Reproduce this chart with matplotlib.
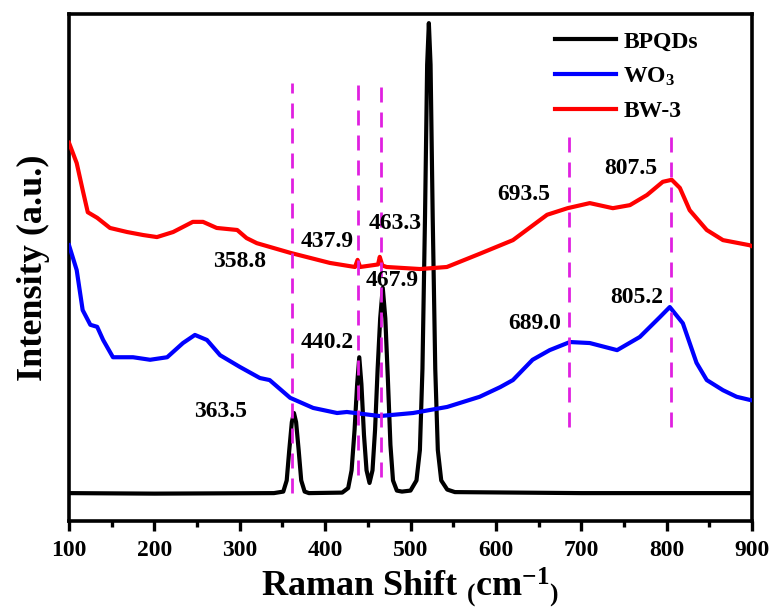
import matplotlib
matplotlib.use("Agg")
import matplotlib.pyplot as plt
import numpy as np

plt.rcParams['font.family'] = 'serif'
plt.rcParams['font.serif'] = ['Liberation Serif', 'DejaVu Serif']
plt.rcParams['font.weight'] = 'bold'
plt.rcParams['mathtext.fontset'] = 'custom'
plt.rcParams['mathtext.rm'] = 'Liberation Serif:bold'
plt.rcParams['mathtext.bf'] = 'Liberation Serif:bold'
plt.rcParams['mathtext.it'] = 'Liberation Serif:bold:italic'

# Spectra (Raman shift in cm-1, intensity in a.u.)
bpqds_x = [100, 200, 340, 351, 355, 358, 361, 363.5, 366, 369, 372, 376, 381,
           420, 427, 431, 434.5, 437.5, 440, 442.5, 445.5, 448.5, 452, 455.5, 458.5, 461.5,
           464.5, 467.5, 470.5, 473.5, 476.5, 479.5, 484, 490, 500, 507, 511, 514, 517,
           519.5, 521.5, 523.5, 526, 529, 532, 536, 543, 552, 700, 900]
bpqds_y = [5.5, 5.4, 5.5, 5.8, 8.0, 14.0, 19.5, 21.3, 19.5, 14.0, 8.0, 5.8, 5.5,
           5.6, 6.5, 10.0, 18.0, 27.0, 32.3, 27.0, 17.0, 10.0, 7.5, 10.0, 18.0, 30.0,
           40.0, 46.0, 40.0, 28.0, 15.0, 8.0, 6.0, 5.8, 6.0, 8.0, 14.0, 30.0, 60.0,
           90.0, 98.2, 90.0, 60.0, 30.0, 14.0, 8.0, 6.2, 5.7, 5.5, 5.5]

wo3_x = [100, 109, 116, 125, 133, 140, 151.5, 175, 195, 215, 233.5, 247.5, 261.6,
         277, 300, 323.6, 335, 359, 386, 414, 425.5, 464, 503, 543, 581, 605, 620,
         643, 663, 686.7, 710, 742, 768.6, 792, 803.7, 819, 835, 847, 866, 882, 897, 900]
wo3_y = [54.4, 49.5, 41.6, 38.7, 38.3, 35.7, 32.3, 32.3, 31.8, 32.3, 35.1, 36.7, 35.7,
         32.7, 30.4, 28.2, 27.8, 24.3, 22.3, 21.3, 21.5, 20.7, 21.3, 22.5, 24.5, 26.4, 27.8,
         31.8, 33.7, 35.3, 35.1, 33.7, 36.3, 40.2, 42.2, 39.0, 31.2, 27.8, 25.8, 24.5, 23.9, 23.8]

bw3_x = [100, 109, 116, 122, 133, 148, 168, 187, 203, 222, 245, 257, 273, 297, 308,
         320, 359, 405.6, 435, 438, 441, 462, 464, 467, 472, 511, 542.6, 581, 620,
         660, 684, 710, 737, 757, 777, 795.5, 806, 815.5, 827, 847, 866, 897, 900]
bw3_y = [74.6, 70.6, 65.3, 60.9, 59.8, 57.8, 57.0, 56.4, 56.0, 57.0, 59.0, 59.0, 57.8, 57.4, 55.8,
         54.8, 52.9, 50.9, 50.1, 51.5, 50.1, 50.6, 52.1, 50.4, 50.1, 49.7, 50.1, 52.7, 55.4,
         60.4, 61.7, 62.7, 61.7, 62.3, 64.3, 66.9, 67.3, 65.7, 61.3, 57.4, 55.4, 54.4, 54.2]

# dashed guide lines: position, top, bottom
guide_x = [361.1, 438.4, 465.3, 685.5, 805.0]
guide_top = [86.4, 87.0, 86.6, 76.1, 76.1]
guide_bottom = [5.5, 9.1, 8.7, 18.5, 18.5]

# peak labels: text, x, y
peak_labels = ["358.8", "437.9", "463.3", "467.9", "440.2", "363.5",
               "693.5", "807.5", "689.0", "805.2"]
label_x = [300, 402, 482, 478, 403, 278, 633, 758, 646, 765]
label_y = [51.1, 55.2, 58.6, 47.5, 35.3, 21.5, 64.3, 69.6, 39.0, 44.0]

fig = plt.figure(figsize=(7.72, 6.1), dpi=100)
ax = fig.add_axes([69 / 772, 89 / 610, 683 / 772, 507 / 610])

ax.plot(bpqds_x, bpqds_y, color="black", linewidth=3.0, label="BPQDs", zorder=3)
ax.plot(wo3_x, wo3_y, color="#0000FF", linewidth=3.0, label="WO$_3$", zorder=3)
ax.plot(bw3_x, bw3_y, color="#FF0000", linewidth=3.0, label="BW-3", zorder=3)

for gx, gt, gb in zip(guide_x, guide_top, guide_bottom):
    ax.plot([gx, gx], [gb, gt], color="#E020E0", linewidth=2.0,
            linestyle=(0, (5.4, 3.6)), zorder=4)

for txt, tx, ty in zip(peak_labels, label_x, label_y):
    ax.text(tx, ty, txt, fontsize=17, fontweight="bold", ha="center", va="center", zorder=5)

ax.set_xlim(100, 900)
ax.set_ylim(0, 100)
ax.set_xticks(np.arange(100, 901, 100))
ax.set_xticks(np.arange(150, 900, 100), minor=True)
ax.set_yticks([])
for s in ax.spines.values():
    s.set_linewidth(2.6)
ax.tick_params(axis="x", which="major", direction="out", length=7, width=2.4,
               labelsize=17, pad=7)
ax.tick_params(axis="x", which="minor", direction="out", length=4, width=2.4)
for lab in ax.get_xticklabels():
    lab.set_fontweight("bold")

ax.set_xlabel(r"Raman Shift $\mathregular{{}_(cm^{-1}{}_)}$", fontsize=26,
              fontweight="bold", labelpad=3)
ax.set_ylabel("Intensity (a.u.)", fontsize=26, fontweight="bold", labelpad=14)

ax.legend(loc="upper left", bbox_to_anchor=(0.694, 0.99), frameon=False,
          borderpad=0, handlelength=2.6, handletextpad=0.3,
          labelspacing=0.55, prop={"weight": "bold", "size": 17})

fig.savefig("out.png", dpi=100)
